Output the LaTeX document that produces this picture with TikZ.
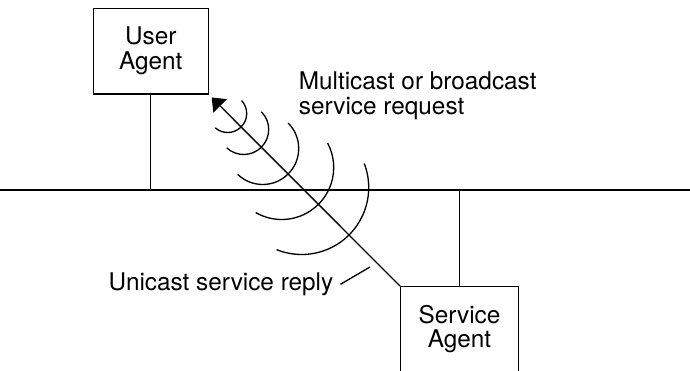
\documentclass[tikz,border=0pt]{standalone}
\usepackage{fontspec}
\setmainfont{TeX Gyre Heros}
\usetikzlibrary{arrows.meta,positioning}

\begin{document}
\begin{tikzpicture}[
    x=0.02cm, y=-0.02cm,
    every node/.style={font=\fontsize{13.85}{14.2}\selectfont},
    agent/.style={rectangle, draw=black, line width=0.75pt, minimum width=2.3cm, minimum height=1.714cm, align=center},
    caption/.style={inner sep=0pt, align=left},
    wire/.style={line width=0.75pt},
    arrow/.style={-{Triangle[length=0.24cm, width=0.38cm]}, line width=0.75pt},
    wave/.style={line width=0.75pt}
]
\useasboundingbox (0,0) rectangle (690,371);
\clip (0,0) rectangle (690,371);

% Agents
\node[agent] (useragent) at (150.8,51.2) {User\\Agent};
\node[agent, anchor=north west, minimum width=2.354cm, minimum height=2.2cm] (serviceagent) at (400,286) {};
\node[caption, align=center, below=0.37cm of serviceagent.north] (servicetext) {Service\\Agent};

% Network
\coordinate (lanleft) at (0,190);
\coordinate (lanright) at (690,190);
\draw[wire] (lanleft) -- (lanright);
\draw[wire] (useragent.south) -- (useragent.south |- lanleft);
\draw[wire] (serviceagent.north) -- (serviceagent.north |- lanleft);

% Request
\coordinate (tip) at (211.7,97.5);
\draw[arrow] (serviceagent.north west) -- (tip);

% Waves
\foreach \c/\r/\a/\b in {16/19/-43/131, 32/25/-45/133, 51/36/-45/134, 70/52/-28/120, 90/67/-21/112}
  \draw[wave] (tip) ++(\c,\c) ++(\a:\r) arc[start angle=\a, end angle=\b, radius=\r];

% Labels
\node[caption, anchor=north west] (request) at (298.5,71) {Multicast or broadcast\\service request};
\node[caption, anchor=base east] (reply) at (333.5,290.5) {Unicast service reply};
\coordinate (replyend) at (370,267);
\draw[wire] ([xshift=0.14cm]reply.east) -- (replyend);

\end{tikzpicture}
\end{document}
